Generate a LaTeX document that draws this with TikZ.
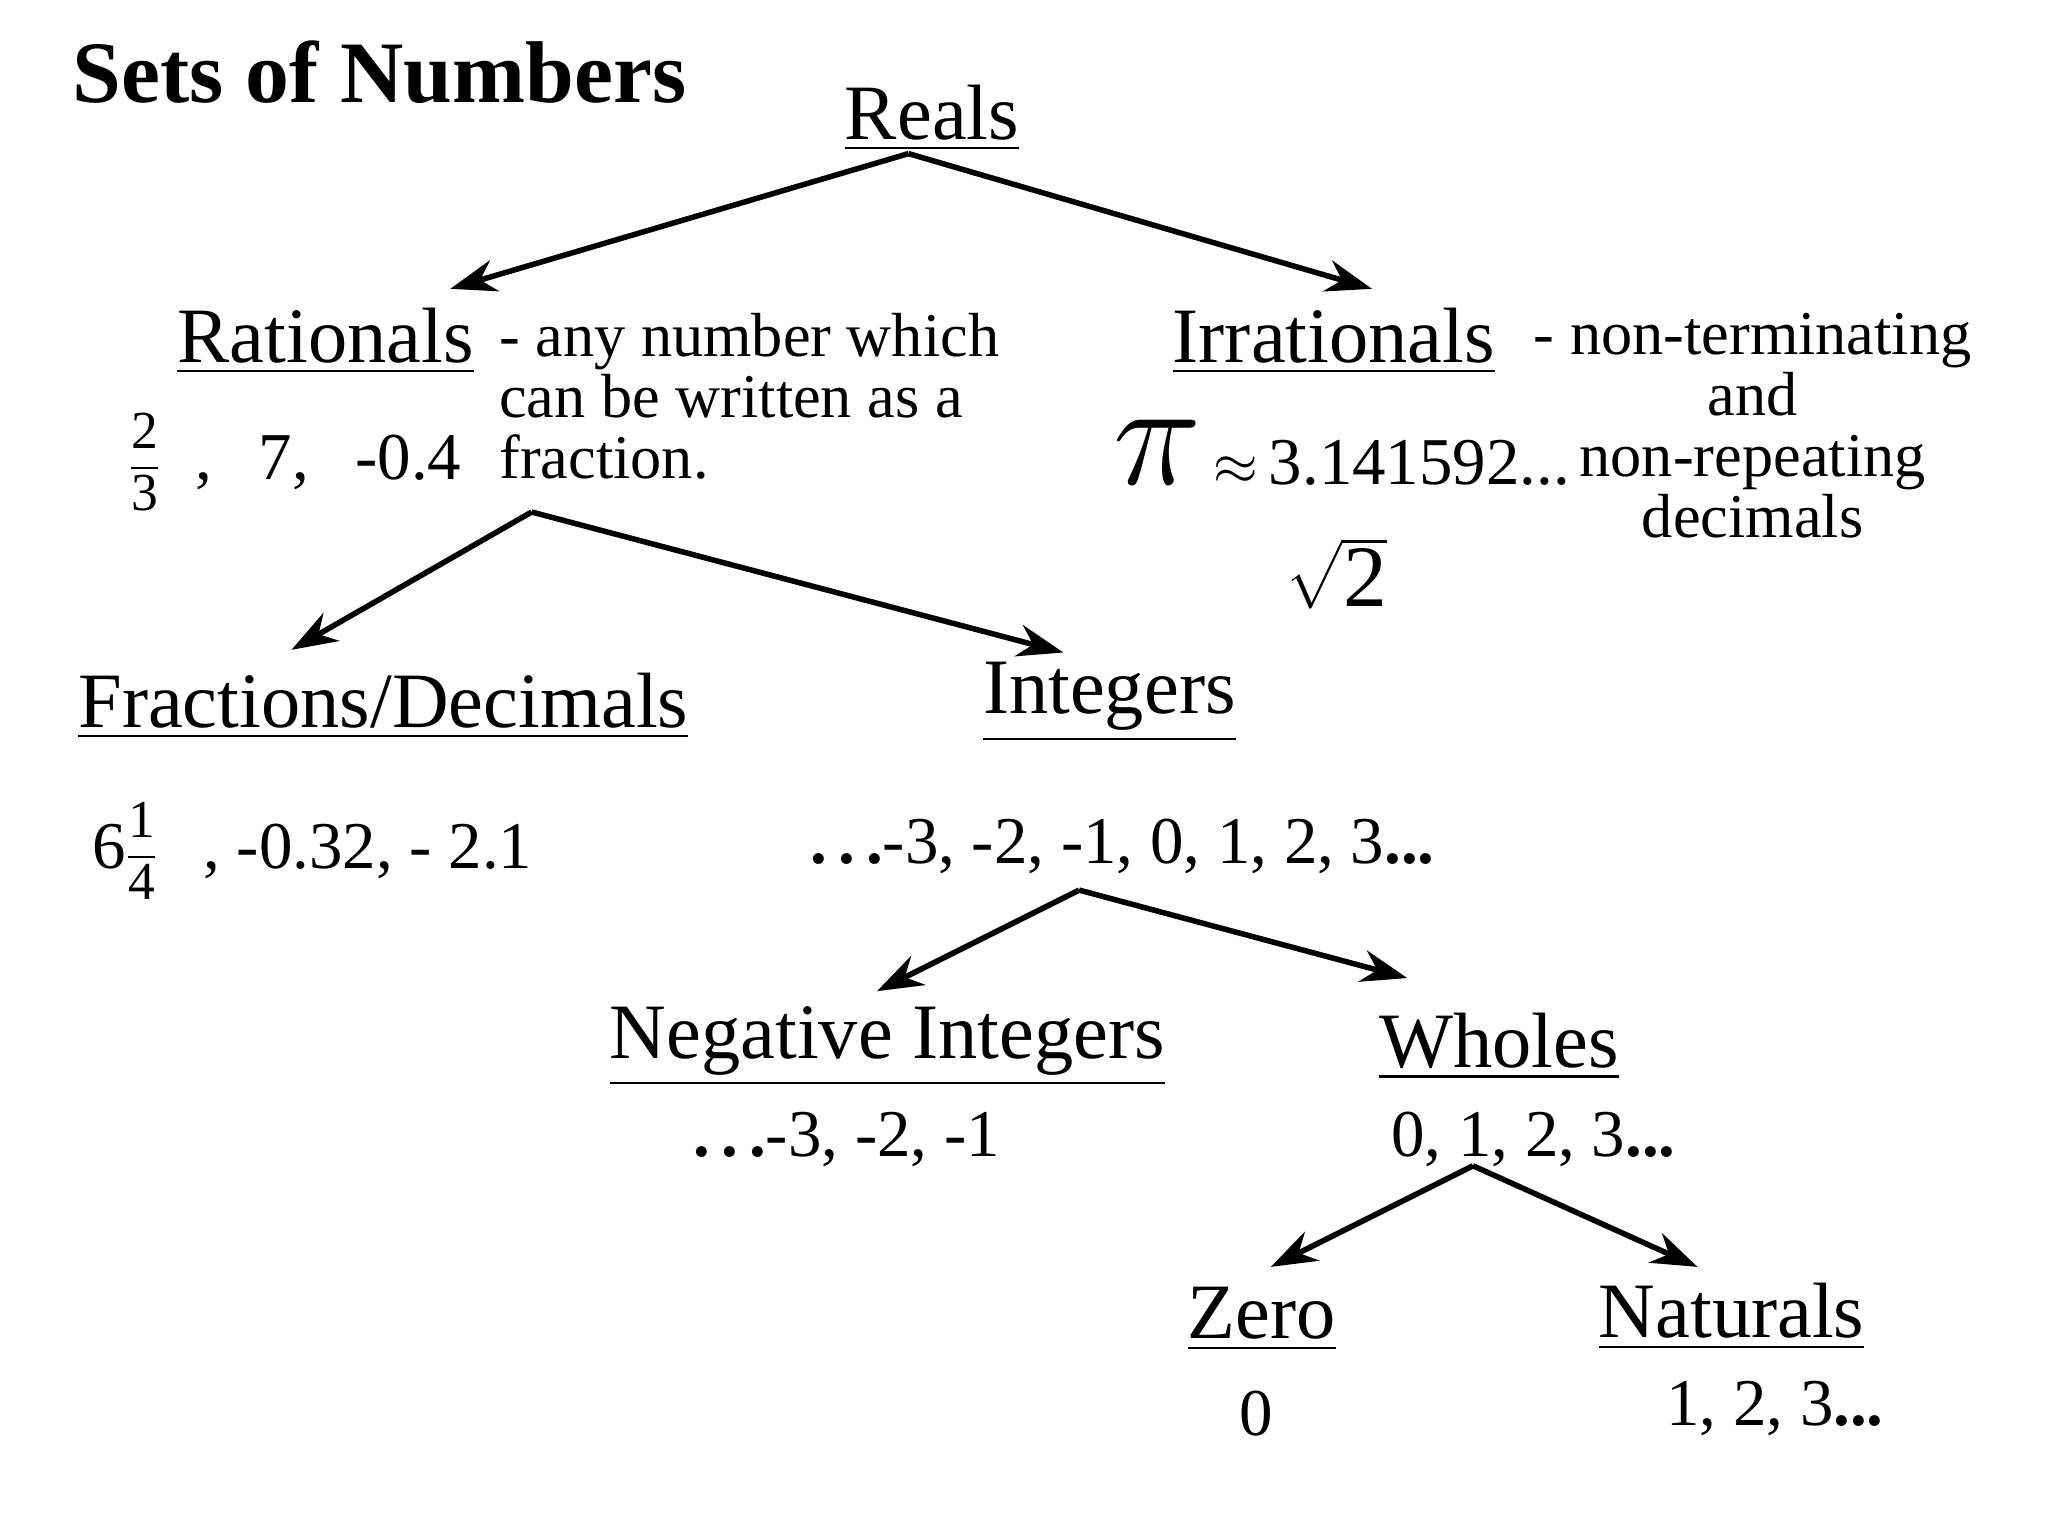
\documentclass[tikz,border=0pt]{standalone}
\usepackage{amsmath}
\usepackage{graphicx}
\usepackage{fontspec}
\setmainfont{Liberation Serif}
\usetikzlibrary{arrows.meta}
\newcommand{\tfr}[2]{\scalebox{0.8}{$\displaystyle\frac{\text{#1}}{\text{#2}}$}}
\begin{document}
\begin{tikzpicture}[x=0.02cm,y=-0.02cm,
  head/.style={font=\fontsize{34}{38}\selectfont, inner sep=0pt},
  val/.style={font=\fontsize{29}{32}\selectfont, inner sep=0pt},
  desc/.style={font=\fontsize{27}{26.5}\selectfont, inner sep=0pt, align=left},
  arr/.style={-{Stealth[length=20pt,width=14pt]}, line width=2.4pt}]
\useasboundingbox (0,0) rectangle (1560,1170);
\node[anchor=base west, font=\bfseries\fontsize{38}{40}\selectfont, inner sep=0pt] (title) at (55,78) {Sets of Numbers};
\node[head] (reals) at (710,90) {\underline{Reals}};
\coordinate (r0) at (692,117);
\node[head] (rat) at (248,260) {\underline{Rationals}};
\node[head] (irr) at (1016,260) {\underline{Irrationals}};
\draw[arr] (r0) -- (343,220);
\draw[arr] (r0) -- (1045,220);
\node[desc, anchor=north west] (ratd) at (380,238) {- any number which\\can be written as a\\fraction.};
\node[desc, anchor=north, align=center] (irrd) at (1335,238) {- non-terminating\\and\\non-repeating\\decimals};
\node[val, anchor=west] (ratv) at (98,352) {\tfr{2}{3}\; ,\;\, 7,\;\, -0.4};
\node[val, anchor=west] (irrv) at (848,345) {\scalebox{2.6}{$\pi$}\,$\approx$\,3.141592...};
\node[val, font=\fontsize{38}{38}\selectfont] (sq) at (1018,437) {$\sqrt{\text{2}}$};
\coordinate (q0) at (405,390);
\node[head] (frac) at (292,538) {\underline{Fractions/Decimals}};
\node[head] (int) at (845,535) {\underline{Integers}};
\draw[arr] (q0) -- (222,495);
\draw[arr] (q0) -- (810,497);
\node[val, anchor=west] (fracv) at (70,648) {6\tfr{1}{4}\;\, , -0.32, - 2.1};
\node[val] (intv) at (855,645) {\textbf{.\,.\,.}-3, -2, -1, 0, 1, 2, 3\textbf{...}};
\coordinate (i0) at (822,678);
\node[head] (neg) at (676,797) {\underline{Negative Integers}};
\node[head] (who) at (1142,797) {\underline{Wholes}};
\draw[arr] (i0) -- (668,755);
\draw[arr] (i0) -- (1072,745);
\node[val] (negv) at (645,868) {\textbf{.\,.\,.}-3, -2, -1};
\node[val] (whov) at (1168,868) {0, 1, 2, 3\textbf{...}};
\coordinate (w0) at (1122,888);
\node[head] (zero) at (961,1005) {\underline{Zero}};
\node[head] (nat) at (1319,1003) {\underline{Naturals}};
\draw[arr] (w0) -- (968,965);
\draw[arr] (w0) -- (1293,965);
\node[val] (zerov) at (957,1077) {0};
\node[val] (natv) at (1352,1073) {1, 2, 3\textbf{...}};
\end{tikzpicture}
\end{document}
